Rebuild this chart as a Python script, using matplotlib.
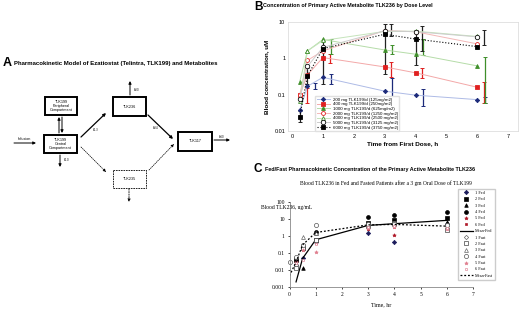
import numpy as np
import matplotlib.pyplot as plt
from matplotlib.patches import Rectangle

plt.rcParams['font.family'] = ['Liberation Sans', 'DejaVu Sans']
SERIF = ['Liberation Serif', 'DejaVu Serif']
nan = np.nan

# ---- Panel B data: TLK236 by dose level ----
times_b = [0.25, 0.5, 1, 3, 4, 6]
dose_labels = ['200 mg TLK199/d (125mg/m2)', '400 mg TLK199/d (250mg/m2)',
               '1000 mg TLK199/d (625mg/m2)', '2000 mg TLK199/d (1250 mg/m2)',
               '4000 mg TLK199/d (2500 mg/m2)', '5000 mg TLK199/d (3125 mg/m2)',
               '6000 mg TLK199/d (3750 mg/m2)']
conc_200 = [0.037, 0.17, 0.30, 0.125, 0.097, 0.073]
conc_400 = [0.10, 0.35, 1.05, 0.58, 0.40, 0.16]
conc_1000 = [0.23, 1.6, 3.3, 1.7, 1.3, 0.62]
conc_2000 = [0.10, 0.88, 1.6, 5.8, 5.4, 2.5]
conc_4000 = [0.065, 1.6, 3.1, 5.5, 5.6, 4.0]
conc_5000 = [0.075, 0.6, 2.0, 5.7, 5.4, 3.9]
conc_6000 = [0.025, 0.33, 1.85, 4.6, 3.4, 2.1]

# error bar ranges (low, high)
err_200 = ([nan, 0.14, 0.20, 0.055, 0.05, 0.06], [nan, 0.21, 0.38, 0.29, 0.14, 0.085])
err_400 = ([0.06, nan, 0.75, 0.30, 0.28, 0.06], [0.15, nan, 1.3, 0.80, 0.55, 0.23])
err_1000 = ([nan, nan, 1.3, 1.3, 1.2, 0.06], [nan, nan, 3.5, 2.3, 3.3, 1.1])
err_2000 = ([nan, nan, nan, 4.0, 1.6, 2.4], [nan, nan, nan, 8.8, 8.0, 6.0])
err_6000 = ([0.018, 0.2, 0.2, 0.37, 0.65, nan], [0.035, 0.55, 3.2, 8.8, 6.0, nan])

# ---- Panel C data: fed / fasted patients ----
times_c = [0, 0.25, 0.5, 1, 3, 4, 6]
fed_1 = [nan, 0.02, 0.048, 0.42, 1.5, 0.45, 5.0]
fed_2 = [nan, 0.043, 0.19, 0.55, 6.0, 8.5, 11.0]
fed_3 = [nan, nan, 0.014, 1.5, 4.5, 5.0, 7.0]
fed_4 = [nan, 0.035, 0.2, 1.8, 12.5, 17.0, 27.0]
fed_5 = [nan, 0.03, 0.17, 0.45, 2.5, 1.1, 3.0]
fed_6 = [nan, 0.025, 0.15, 0.38, 3.0, 3.5, 3.2]
fast_1 = [nan, 0.02, 0.3, 0.5, 4.5, 4.8, 4.0]
fast_2 = [nan, 0.014, 0.2, 0.6, 4.0, 5.5, 2.2]
fast_3 = [nan, nan, 0.9, 1.5, 5.0, 6.0, 3.5]
fast_4 = [0.028, 0.06, 0.28, 4.4, 4.8, 5.0, 4.5]
fast_5 = [nan, 0.03, 0.15, 0.11, 3.0, 3.2, 2.6]
fast_6 = [nan, 0.025, 0.04, 0.35, 3.5, 4.0, 3.0]
mean_fed_t = [0.25, 0.5, 1, 3, 4, 6]
mean_fed = [0.002, 0.048, 0.6, 4.2, 5.3, 8.3]
mean_fast = [0.0045, 0.03, 0.3, 1.6, 4.5, 4.8, 3.8]

fig = plt.figure(figsize=(5.2, 3.12), dpi=100)

# ---- Panel A: model diagram drawn in pixel space ----
ax_a = fig.add_axes([0, 0, 1, 1])
ax_a.set_xlim(0, 520)
ax_a.set_ylim(312, 0)
ax_a.axis('off')

ax_a.text(3, 63, 'A', fontsize=9, fontweight='bold', va='center')
ax_a.text(14, 64, 'Pharmacokinetic Model of Ezatiostat (Telintra, TLK199) and Metabolites',
          fontsize=4.3, fontweight='bold', va='center')

def box(x0, y0, x1, y1, label, dashed=False):
    ax_a.add_patch(Rectangle((x0, y0), x1 - x0, y1 - y0, fill=False, ec='k',
                             lw=0.6 if dashed else 1.4, ls=(0, (2, 1)) if dashed else '-'))
    ax_a.text((x0 + x1) / 2, (y0 + y1) / 2, label, fontsize=2.7, ha='center',
              va='center', linespacing=1.0)

def arrow(p0, p1, dashed=False, lw=0.7):
    ax_a.annotate('', xy=p1, xytext=p0,
                  arrowprops=dict(arrowstyle='-|>', lw=lw, color='k', mutation_scale=4,
                                  ls=(0, (1.5, 1.5)) if dashed else '-', shrinkA=0, shrinkB=0))

box(45, 97, 77, 115, 'TLK199\nPeripheral\nCompartment')
box(44, 135, 77, 153, 'TLK199\nCentral\nCompartment')
box(113, 97, 146, 116, 'TLK236')
box(178, 132, 212, 151, 'TLK117')
box(113, 170, 146, 188, 'TLK235', dashed=True)

arrow((14, 143), (36, 143))
ax_a.text(24, 141, 'Infusion', fontsize=2.7, ha='center', va='bottom')
arrow((59, 133), (59, 117))
arrow((62, 117), (62, 133))
arrow((60, 155), (60, 167))
ax_a.text(63, 160, 'k$_{10}$', fontsize=2.7, va='center')
arrow((81, 137), (106, 113), lw=0.9)
ax_a.text(92, 130, 'k$_{13}$', fontsize=2.7, va='center')
arrow((130, 95), (130, 81))
ax_a.text(133, 90, 'k$_{30}$', fontsize=2.7, va='center')
arrow((148, 115), (173, 139), lw=0.9)
ax_a.text(152, 128, 'k$_{34}$', fontsize=2.7, va='center')
arrow((214, 140), (230, 140))
ax_a.text(218, 137, 'k$_{40}$', fontsize=2.7, va='center')
arrow((81, 147), (106, 172), dashed=True, lw=0.5)
arrow((149, 170), (174, 144), dashed=True, lw=0.5)
arrow((129, 189), (129, 202), dashed=True, lw=0.6)

# ---- Panel B ----
ax_b = fig.add_axes([288 / 520, 1 - 131 / 312, 230 / 520, 109 / 312])
ax_b.set_yscale('log')
ax_b.set_xlim(-0.13, 7.32)
ax_b.set_ylim(0.01, 10)

series_b = [
    (conc_200, dict(color='#1c2a7a', marker='D', ms=2.2, mfc='#1c2a7a', lc='#aebbe6', ls='-')),
    (conc_400, dict(color='#e02020', marker='s', ms=2.6, mfc='#e02020', lc='#f3a8a8', ls='-')),
    (conc_1000, dict(color='#3f8f2a', marker='^', ms=2.8, mfc='#3f8f2a', lc='#b5dca8', ls='-')),
    (conc_2000, dict(color='#e02020', marker='o', ms=2.8, mfc='white', lc='#f3b8b8', ls='-')),
    (conc_4000, dict(color='#3f8f2a', marker='^', ms=2.8, mfc='white', lc='#c5e4bb', ls='-')),
    (conc_5000, dict(color='#111111', marker='o', ms=3.2, mfc='white', lc='#cccccc', ls='-')),
    (conc_6000, dict(color='#000000', marker='s', ms=3.4, mfc='#000000', lc='#000000', ls=':')),
]
for (vals, st), lab in zip(series_b, dose_labels):
    ax_b.plot(times_b, vals, color=st['lc'], ls=st['ls'], lw=0.8 if st['ls'] == ':' else 0.7,
              marker=st['marker'], ms=st['ms'], mfc=st['mfc'], mec=st['color'],
              mew=0.6, label=lab, zorder=3)

err_sets = [(err_200, '#1c2a7a', 0.25), (err_400, '#e02020', 0.22),
            (err_1000, '#3f8f2a', 0.25), (err_2000, '#222222', 0.22),
            (err_6000, '#222222', 0.0)]
for (lo, hi), col, off in err_sets:
    lo = np.array(lo)
    hi = np.array(hi)
    mid = np.sqrt(lo * hi)
    xs = np.array(times_b) + off
    ax_b.errorbar(xs, mid, yerr=[mid - lo, hi - mid], fmt='none', ecolor=col,
                  elinewidth=0.9, capsize=1.6, capthick=0.7, zorder=2)

ax_b.set_xticks(range(0, 8))
ax_b.set_yticks([0.01, 0.1, 1, 10])
ax_b.set_yticklabels(['0.01', '0.1', '1', '10'])
ax_b.minorticks_off()
ax_b.tick_params(labelsize=4, length=0, pad=2)
for s in ax_b.spines.values():
    s.set_color('#d8d8d8')
    s.set_linewidth(0.5)
ax_b.set_xlabel('Time from First Dose, h', fontsize=4.6, fontweight='bold', labelpad=2)
ax_b.set_ylabel('Blood concentration, uM', fontsize=4.6, fontweight='bold', labelpad=4)
ax_b.legend(loc='upper left', bbox_to_anchor=(313 / 520, 1 - 94 / 312),
            bbox_transform=fig.transFigure, fontsize=3.2, labelspacing=0.12,
            handlelength=3.0, handletextpad=0.6, borderpad=0.3, frameon=True,
            fancybox=False, edgecolor='#e0e0e0', framealpha=1)
fig.text(254 / 520, 1 - 7 / 312, 'B', fontsize=8.5, fontweight='bold', va='center')
fig.text(263 / 520, 1 - 5 / 312, 'Concentration of Primary Active Metabolite TLK236 by Dose Level',
         fontsize=3.9, fontweight='bold', va='center')

# ---- Panel C ----
ax_c = fig.add_axes([289.5 / 520, 1 - 287 / 312, 183.5 / 520, 85 / 312])
ax_c.set_yscale('log')
ax_c.set_xlim(0, 7)
ax_c.set_ylim(0.001, 100)

fed_sets = [
    (fed_1, '1 Fed', dict(marker='D', c='#1c1c5c', mfc='#1c1c5c', ms=2.2)),
    (fed_2, '2 Fed', dict(marker='s', c='#000000', mfc='#000000', ms=2.4)),
    (fed_3, '3 Fed', dict(marker='^', c='#000000', mfc='#000000', ms=2.6)),
    (fed_4, '4 Fed', dict(marker='o', c='#000000', mfc='#000000', ms=2.8)),
    (fed_5, '5 Fed', dict(marker='*', c='#b01a2a', mfc='#b01a2a', ms=2.6)),
    (fed_6, '6 Fed', dict(marker='s', c='#b01a2a', mfc='#b01a2a', ms=1.8)),
]
fast_sets = [
    (fast_1, '1 Fast', dict(marker='D', c='#666666', mfc='white', ms=2.2)),
    (fast_2, '2 Fast', dict(marker='s', c='#444444', mfc='white', ms=2.6)),
    (fast_3, '3 Fast', dict(marker='^', c='#666666', mfc='white', ms=2.8)),
    (fast_4, '4 Fast', dict(marker='o', c='#555555', mfc='white', ms=3.0)),
    (fast_5, '5 Fast', dict(marker='*', c='#e08090', mfc='#e08090', ms=2.6)),
    (fast_6, '6 Fast', dict(marker='s', c='#e090a0', mfc='white', ms=2.0)),
]
for vals, lab, st in fed_sets:
    ax_c.plot(times_c, vals, ls='none', marker=st['marker'], ms=st['ms'],
              mfc=st['mfc'], mec=st['c'], mew=0.5, label=lab, clip_on=False)
ax_c.plot(mean_fed_t, mean_fed, color='k', lw=0.9, label='Mean-Fed')
for vals, lab, st in fast_sets:
    ax_c.plot(times_c, vals, ls='none', marker=st['marker'], ms=st['ms'],
              mfc=st['mfc'], mec=st['c'], mew=0.5, label=lab, clip_on=False)
ax_c.plot(times_c, mean_fast, color='k', lw=0.9, ls=(0, (1.5, 1.5)), label='Mean-Fast')

ax_c.set_xticks(range(0, 8))
ax_c.set_yticks([0.001, 0.01, 0.1, 1, 10, 100])
ax_c.set_yticklabels(['0.001', '0.01', '0.1', '1', '10', '100'])
ax_c.minorticks_off()
ax_c.tick_params(labelsize=4, length=1.5, width=0.5, pad=2)
for lab in ax_c.get_xticklabels() + ax_c.get_yticklabels():
    lab.set_family(SERIF)
ax_c.spines['top'].set_visible(False)
ax_c.spines['right'].set_visible(False)
for s in ('left', 'bottom'):
    ax_c.spines[s].set_color('#888888')
    ax_c.spines[s].set_linewidth(0.6)
ax_c.set_xlabel('Time, hr', fontsize=4.2, family=SERIF, labelpad=4)
fig.text(261 / 520, 1 - 208 / 312, 'Blood TLK236, ug/mL', fontsize=4.0, family=SERIF,
         va='center')
fig.text(386 / 520, 1 - 183 / 312,
         'Blood TLK236 in Fed and Fasted Patients after a 3 gm Oral Dose of TLK199',
         fontsize=4.0, family=SERIF, ha='center', va='center')
ax_c.legend(loc='upper left', bbox_to_anchor=(456 / 520, 1 - 187 / 312),
            bbox_transform=fig.transFigure, prop={'family': SERIF, 'size': 3.1},
            labelspacing=0.55, handlelength=3.0, handletextpad=0.5, borderpad=0.4,
            frameon=True, fancybox=False, edgecolor='#cccccc', framealpha=1)
fig.text(254 / 520, 1 - 169 / 312, 'C', fontsize=8.5, fontweight='bold', va='center')
fig.text(265 / 520, 1 - 170 / 312,
         'Fed/Fast Pharmacokinetic Concentration of the Primary Active Metabolite TLK236',
         fontsize=3.9, fontweight='bold', va='center')

fig.savefig('out.png', dpi=100)
